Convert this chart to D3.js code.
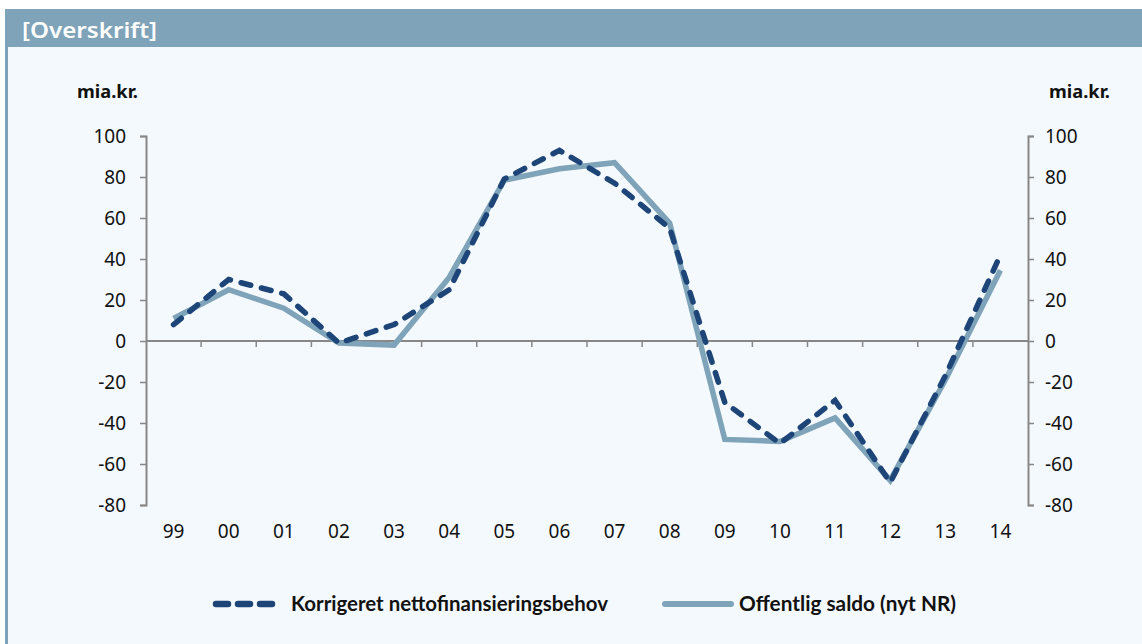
<!DOCTYPE html>
<html>
<head>
<meta charset="utf-8">
<script src="https://cdn.jsdelivr.net/npm/d3@7"></script>
<style>
  body { margin: 0; background: #fff; }
  svg { display: block; }
</style>
</head>
<body>
<div id="chart"></div>
<script>
const years = ['99', '00', '01', '02', '03', '04', '05', '06', '07', '08', '09', '10', '11', '12', '13', '14'];
const korrigeret = [8, 30, 23, -1, 8, 25, 79, 93, 77, 55, -30, -50, -29, -69, -17, 42];
const saldo = [11, 25, 16, -1, -2, 31, 78.5, 84, 87, 57.5, -48, -49, -37.5, -68, -19, 34.5];
const yTicks = [-80, -60, -40, -20, 0, 20, 40, 60, 80, 100];
const seriesNames = ['Korrigeret nettofinansieringsbehov', 'Offentlig saldo (nyt NR)'];

const W = 1142, H = 644;
const margin = { top: 136, right: 114, bottom: 139, left: 146 };
const darkBlue = '#1e4578';
const lightBlue = '#7fa3b8';
const axisGrey = '#878787';
const font = 'Noto Sans';

const svg = d3.select('#chart').append('svg')
  .attr('width', W)
  .attr('height', H);

// panel + header
svg.append('rect').attr('x', 5).attr('y', 9).attr('width', W - 5).attr('height', H - 9).attr('fill', '#f4f9fd');
svg.append('rect').attr('x', 5).attr('y', 9).attr('width', W - 5).attr('height', 38).attr('fill', lightBlue);
svg.append('rect').attr('x', 5).attr('y', 9).attr('width', 3).attr('height', H - 9).attr('fill', lightBlue);
svg.append('text')
  .attr('x', 22).attr('y', 38)
  .attr('fill', '#fff')
  .attr('textLength', 135)
  .attr('lengthAdjust', 'spacingAndGlyphs')
  .style('font-family', font)
  .style('font-size', '22px')
  .style('font-weight', 600)
  .text('[Overskrift]');

const x = d3.scaleBand()
  .domain(years)
  .range([margin.left, W - margin.right])
  .padding(0);

const y = d3.scaleLinear()
  .domain([-80, 100])
  .range([H - margin.bottom, margin.top]);

const tickFont = g => g.selectAll('text')
  .style('font-family', font)
  .style('font-size', '19px')
  .attr('fill', '#111');

const fmt = d => String(d);

// left axis
const yAxisL = svg.append('g')
  .attr('transform', `translate(${margin.left},0)`)
  .call(d3.axisLeft(y).tickValues(yTicks).tickFormat(fmt).tickSize(6).tickPadding(14));
yAxisL.call(tickFont);

// right axis
const yAxisR = svg.append('g')
  .attr('transform', `translate(${W - margin.right},0)`)
  .call(d3.axisRight(y).tickValues(yTicks).tickFormat(fmt).tickSize(6).tickPadding(11));
yAxisR.call(tickFont);

[yAxisL, yAxisR].forEach(g => {
  g.select('.domain').attr('stroke', axisGrey).attr('stroke-width', 2);
  g.selectAll('.tick line').attr('stroke', axisGrey).attr('stroke-width', 1.5);
});

// zero line with category boundary ticks
const zeroG = svg.append('g').attr('transform', `translate(0,${y(0)})`);
zeroG.append('line')
  .attr('x1', margin.left).attr('x2', W - margin.right)
  .attr('stroke', axisGrey).attr('stroke-width', 2);
zeroG.selectAll('.xtick')
  .data(years.slice(1))
  .join('line')
  .attr('class', 'xtick')
  .attr('x1', d => x(d)).attr('x2', d => x(d))
  .attr('y1', 0).attr('y2', 6)
  .attr('stroke', axisGrey).attr('stroke-width', 1.5);

// category labels
const xAxisG = svg.append('g')
  .attr('transform', `translate(0,${H - margin.bottom})`)
  .call(d3.axisBottom(x).tickSize(0).tickPadding(20));
xAxisG.select('.domain').remove();
xAxisG.call(tickFont);

// unit labels
const unit = (xx, anchor) => svg.append('text')
  .attr('x', xx).attr('y', 98)
  .attr('text-anchor', anchor)
  .attr('textLength', 61)
  .attr('lengthAdjust', 'spacingAndGlyphs')
  .style('font-family', font)
  .style('font-size', '18px')
  .style('font-weight', 700)
  .attr('fill', '#111')
  .text('mia.kr.');
unit(77, 'start');
unit(1110, 'end');

// lines
const line = d3.line()
  .x((d, i) => x(years[i]) + x.bandwidth() / 2)
  .y(d => y(d));

svg.append('path')
  .datum(saldo)
  .attr('fill', 'none')
  .attr('stroke', lightBlue)
  .attr('stroke-width', 5.5)
  .attr('d', line);

svg.append('path')
  .datum(korrigeret)
  .attr('fill', 'none')
  .attr('stroke', darkBlue)
  .attr('stroke-width', 5.5)
  .attr('stroke-linecap', 'round')
  .attr('stroke-dasharray', '10,11')
  .attr('d', line);

// legend
const legY = 604;
const legend = svg.append('g');
legend.append('line')
  .attr('x1', 216).attr('x2', 272).attr('y1', legY).attr('y2', legY)
  .attr('stroke', darkBlue).attr('stroke-width', 6.5)
  .attr('stroke-linecap', 'round').attr('stroke-dasharray', '12,10');
legend.append('line')
  .attr('x1', 665).attr('x2', 731).attr('y1', legY).attr('y2', legY)
  .attr('stroke', lightBlue).attr('stroke-width', 6)
  .attr('stroke-linecap', 'round');

const legText = (xx, w, t) => legend.append('text')
  .attr('x', xx).attr('y', 611)
  .attr('textLength', w)
  .attr('lengthAdjust', 'spacingAndGlyphs')
  .style('font-family', 'Lato')
  .style('font-size', '20px')
  .style('font-weight', 700)
  .attr('fill', '#111')
  .text(t);
legText(291, 317, seriesNames[0]);
legText(739, 217, seriesNames[1]);
</script>
</body>
</html>
